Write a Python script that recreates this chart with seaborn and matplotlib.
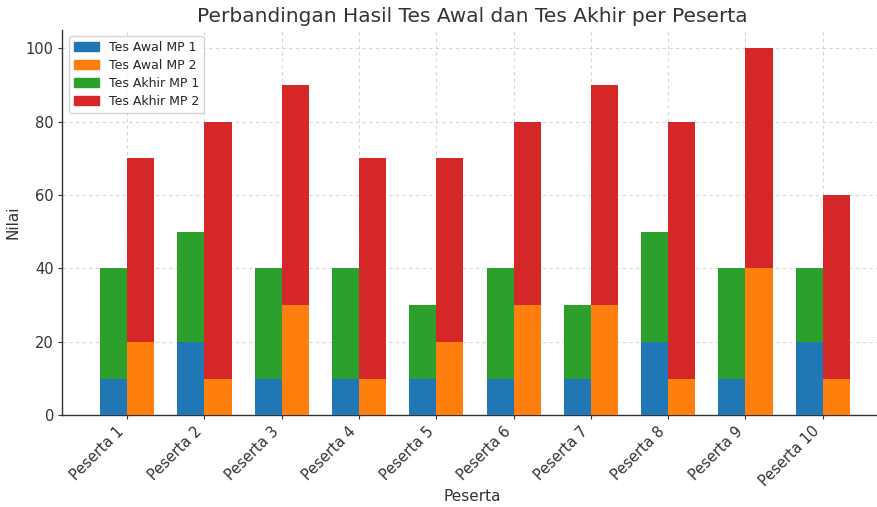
import matplotlib
matplotlib.use("Agg")
import matplotlib.pyplot as plt
import seaborn as sns
import pandas as pd
from matplotlib.patches import Patch

peserta = [f"Peserta {i}" for i in range(1, 11)]
awal_mp1 = [10, 20, 10, 10, 10, 10, 10, 20, 10, 20]
awal_mp2 = [20, 10, 30, 10, 20, 30, 30, 10, 40, 10]
akhir_mp1 = [40, 50, 40, 40, 30, 40, 30, 50, 40, 40]
akhir_mp2 = [70, 80, 90, 70, 70, 80, 90, 80, 100, 60]

sns.set_style("white")
plt.rcParams['font.family'] = ['DejaVu Sans']

fig = plt.figure(figsize=(8.77, 5.07), dpi=100)
ax = fig.add_axes([0.071, 0.181, 0.935, 0.76])

akhir = pd.DataFrame({
    "Peserta": peserta * 2,
    "MP": ["MP 1"] * 10 + ["MP 2"] * 10,
    "Nilai": akhir_mp1 + akhir_mp2,
})
awal = pd.DataFrame({
    "Peserta": peserta * 2,
    "MP": ["MP 1"] * 10 + ["MP 2"] * 10,
    "Nilai": awal_mp1 + awal_mp2,
})

c_awal1, c_awal2, c_akhir1, c_akhir2 = "#1f77b4", "#ff7f0e", "#2ca02c", "#d62728"

sns.barplot(data=akhir, x="Peserta", y="Nilai", hue="MP", order=peserta,
            palette=[c_akhir1, c_akhir2], width=0.7, saturation=1, ax=ax,
            legend=False, errorbar=None, zorder=2, linewidth=0)
sns.barplot(data=awal, x="Peserta", y="Nilai", hue="MP", order=peserta,
            palette=[c_awal1, c_awal2], width=0.7, saturation=1, ax=ax,
            legend=False, errorbar=None, zorder=3, linewidth=0)

ax.set_xlim(-0.84, 9.77)
ax.set_ylim(0, 105)
ax.set_yticks([0, 20, 40, 60, 80, 100])
ax.grid(True, linestyle=(0, (3, 3)), color="#cccccc", linewidth=0.8, alpha=0.8)
ax.set_axisbelow(True)
for s in ["top", "right"]:
    ax.spines[s].set_visible(False)
for s in ["left", "bottom"]:
    ax.spines[s].set_color("#333333")
    ax.spines[s].set_linewidth(1.0)

ax.tick_params(axis="both", which="both", length=3, colors="#333333", labelsize=10.5, bottom=True, left=True, pad=3)
plt.setp(ax.get_xticklabels(), rotation=45, ha="right")

ax.set_title("Perbandingan Hasil Tes Awal dan Tes Akhir per Peserta", fontsize=14.5, color="#333333")
ax.set_xlabel("Peserta", fontsize=11, color="#333333", labelpad=0)
ax.set_ylabel("Nilai", fontsize=11, color="#333333")

handles = [Patch(color=c_awal1, label="Tes Awal MP 1"),
           Patch(color=c_awal2, label="Tes Awal MP 2"),
           Patch(color=c_akhir1, label="Tes Akhir MP 1"),
           Patch(color=c_akhir2, label="Tes Akhir MP 2")]
ax.legend(handles=handles, loc="upper left", fontsize=9, frameon=True, labelspacing=0.4)

fig.savefig("out.png", dpi=100)
